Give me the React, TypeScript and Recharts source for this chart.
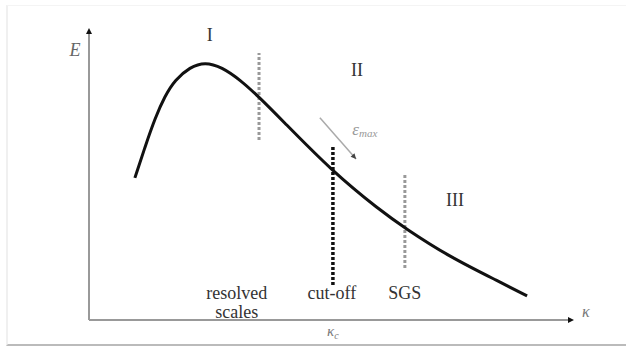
import {
  ComposedChart,
  Line,
  XAxis,
  YAxis,
  ReferenceLine,
  ReferenceDot,
} from "recharts";

// energy spectrum sketch, E(κ) on 0..100 scales
const kappa = [9.5, 11.6, 13.7, 15.7, 17.8, 20.9, 24.0, 27.5, 31.3, 35.2, 39.5, 50.5, 60.2, 65.4, 74.7, 85.1, 90.7];
const energy = [49.0, 59.7, 69.7, 77.2, 82.8, 87.2, 89.0, 87.2, 82.8, 76.9, 69.7, 51.0, 37.9, 31.7, 21.7, 13.1, 8.3];

// vertical separators: resolved / cut-off / SGS
const cutKappa = [35.2, 50.5, 65.4];
const cutTop = [92.1, 60.3, 50.7];
const cutBottom = [62.1, 12.1, 17.9];

// range numerals
const regionNames = ["I", "II", "III"];
const regionKappa = [25.0, 55.5, 75.8];
const regionEnergy = [98.3, 86.2, 41.4];

// words under the curve
const scaleWords = ["resolved", "cut-off", "SGS"];
const scaleKappa = [30.6, 50.3, 65.4];
const scaleEnergy = 7.2;

// dissipation arrow
const epsFrom = { x: 47.8, y: 69.7 };
const epsTo = { x: 55.3, y: 55.5 };
const epsLabel = { x: 54.5, y: 63.8 };

const kappaC = 50.5;

const data = kappa.map((k, i) => ({ k, e: energy[i] }));

const serif = { fontFamily: "'Liberation Serif', 'Times New Roman', serif" };
const ink = "#333";

const ArrowLine = (props: any) => {
  const { x1, y1, x2, y2 } = props;
  const a = Math.atan2(y2 - y1, x2 - x1);
  const s = 6;
  const p1 = `${x2},${y2}`;
  const p2 = `${x2 - s * Math.cos(a - 0.45)},${y2 - s * Math.sin(a - 0.45)}`;
  const p3 = `${x2 - s * Math.cos(a + 0.45)},${y2 - s * Math.sin(a + 0.45)}`;
  return (
    <g>
      <line x1={x1} y1={y1} x2={x2} y2={y2} stroke="#aaa" strokeWidth={1.5} />
      <polygon points={`${p1} ${p2} ${p3}`} fill="#444" />
    </g>
  );
};

const KappaTick = (props: any) => {
  const { x, y } = props;
  return (
    <text x={x} y={y + 8} textAnchor="middle" style={serif} fontStyle="italic" fontSize={15} fill="#777">
      κ
      <tspan fontSize={10} dy={3}>c</tspan>
    </text>
  );
};

const App = () => {
  return (
    <div style={{ position: "absolute", left: 0, top: 0, width: 626, height: 346, background: "#fff" }}>
      <div
        style={{
          position: "absolute",
          left: 6,
          top: 5,
          width: 620,
          height: 338,
          borderLeft: "2px solid #f0f0f0",
          borderTop: "1px solid #f4f4f4",
          borderBottom: "2px solid #bbb",
        }}
      />
      <ComposedChart
        width={626}
        height={346}
        data={data}
        margin={{ top: 30, right: 54, left: 29, bottom: 6 }}
        style={{ position: "absolute", left: 0, top: 0 }}
      >
        <XAxis
          dataKey="k"
          type="number"
          domain={[0, 100]}
          ticks={[kappaC]}
          tickLine={false}
          tick={<KappaTick />}
          axisLine={{ stroke: "#999", strokeWidth: 2 }}
          height={20}
        />
        <YAxis
          type="number"
          domain={[0, 100]}
          tick={false}
          tickLine={false}
          axisLine={{ stroke: "#999", strokeWidth: 2 }}
          width={60}
        />

        {cutKappa.map((k, i) => (
          <ReferenceLine
            key={`cut-${i}`}
            segment={[
              { x: k, y: cutBottom[i] },
              { x: k, y: cutTop[i] },
            ]}
            stroke={i === 1 ? "#111" : "#999"}
            strokeWidth={i === 1 ? 3.5 : 3}
            strokeDasharray="3 2"
          />
        ))}

        <ReferenceLine segment={[epsFrom, epsTo]} shape={ArrowLine} />

        <Line
          dataKey="e"
          type="basis"
          stroke="#111"
          strokeWidth={3}
          dot={false}
          isAnimationActive={false}
        />

        {/* axis arrowheads and axis names */}
        <ReferenceDot
          x={100}
          y={0}
          shape={(p: any) => (
            <g>
              <polygon points={`${p.cx + 2},${p.cy} ${p.cx - 4},${p.cy - 3} ${p.cx - 4},${p.cy + 3}`} fill="#111" />
              <text x={p.cx + 10} y={p.cy - 3} style={serif} fontStyle="italic" fontSize={16} fill="#777">
                κ
              </text>
            </g>
          )}
        />
        <ReferenceDot
          x={0}
          y={100}
          shape={(p: any) => (
            <polygon points={`${p.cx},${p.cy - 2} ${p.cx - 3},${p.cy + 4} ${p.cx + 3},${p.cy + 4}`} fill="#111" />
          )}
        />
        <ReferenceDot
          x={0}
          y={93}
          shape={(p: any) => (
            <text x={p.cx - 14} y={p.cy + 6} textAnchor="middle" style={serif} fontStyle="italic" fontSize={18} fill="#666">
              E
            </text>
          )}
        />

        {regionNames.map((n, i) => (
          <ReferenceDot
            key={`reg-${i}`}
            x={regionKappa[i]}
            y={regionEnergy[i]}
            shape={(p: any) => (
              <text x={p.cx} y={p.cy + 6} textAnchor="middle" style={serif} fontSize={18} fill={ink}>
                {n}
              </text>
            )}
          />
        ))}

        {scaleWords.map((w, i) => (
          <ReferenceDot
            key={`word-${i}`}
            x={scaleKappa[i]}
            y={scaleEnergy}
            shape={(p: any) => (
              <text x={p.cx} y={p.cy} textAnchor="middle" style={serif} fontSize={18} fill={ink}>
                {w}
                {i === 0 && (
                  <tspan x={p.cx} dy={19}>
                    scales
                  </tspan>
                )}
              </text>
            )}
          />
        ))}

        <ReferenceDot
          x={epsLabel.x}
          y={epsLabel.y}
          shape={(p: any) => (
            <text x={p.cx} y={p.cy} style={serif} fontStyle="italic" fontSize={17} fill="#999">
              ε
              <tspan fontSize={11} dy={2}>max</tspan>
            </text>
          )}
        />
      </ComposedChart>
    </div>
  );
};

export default App;
